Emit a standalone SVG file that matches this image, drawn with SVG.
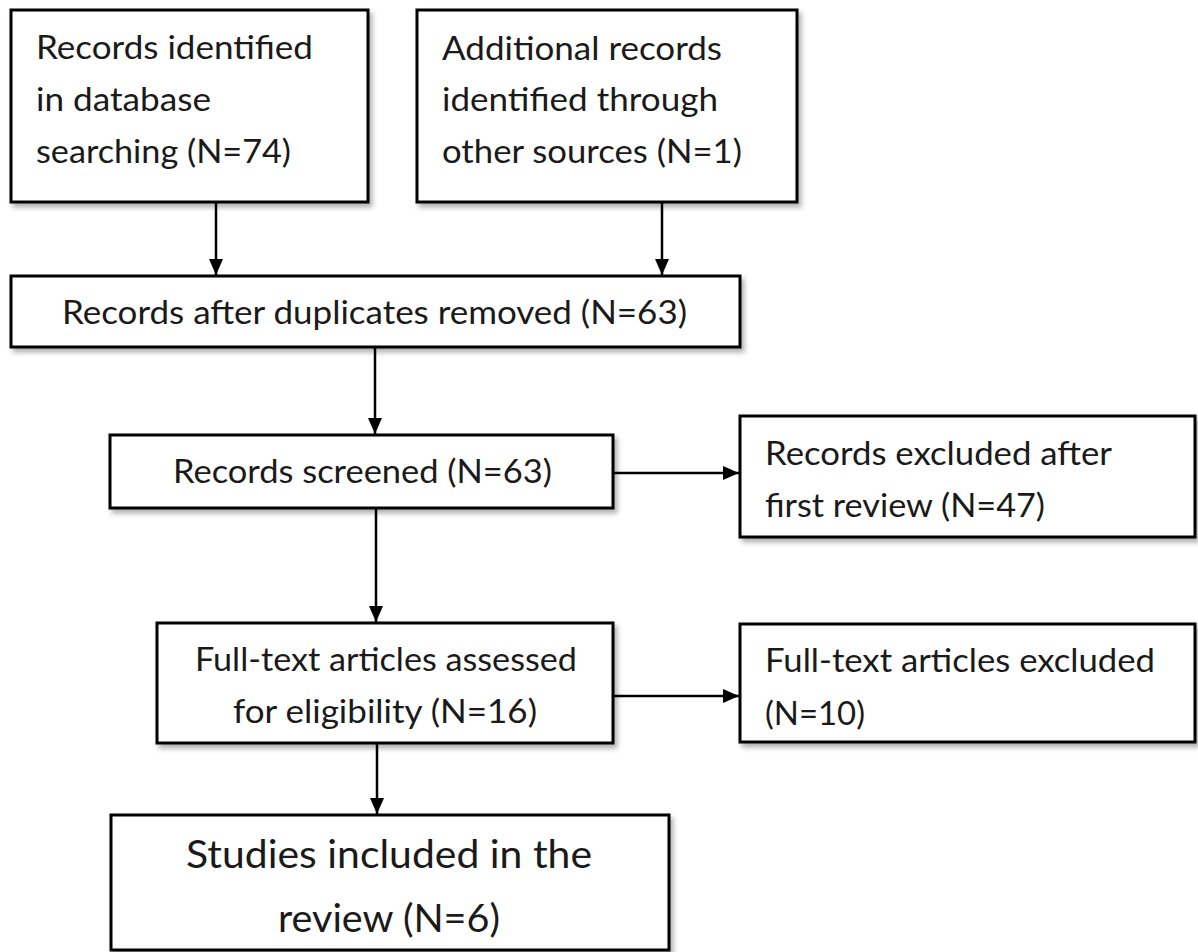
<svg xmlns="http://www.w3.org/2000/svg" width="1198" height="952" viewBox="0 0 1198 952">
<defs>
<filter id="sh" x="-5%" y="-5%" width="115%" height="120%">
<feDropShadow dx="3" dy="4" stdDeviation="2.5" flood-color="#000" flood-opacity="0.3"/>
</filter>
<marker id="ah" viewBox="0 0 16 14" refX="16" refY="7" markerWidth="16" markerHeight="14" markerUnits="userSpaceOnUse" orient="auto">
<path d="M0,0 L16,7 L0,14 z" fill="#000"/>
</marker>
</defs>
<style>
.box{fill:#fff;stroke:#000;stroke-width:3;filter:url(#sh)}
.t{font-family:Lato,"Open Sans","Liberation Sans",sans-serif;font-size:32.5px;fill:#1a1a1a}
.tb{font-family:Lato,"Open Sans","Liberation Sans",sans-serif;font-size:38px;fill:#1a1a1a}
.c{text-anchor:middle}
.edge{stroke:#000;stroke-width:2.5;fill:none;marker-end:url(#ah)}
</style>
<rect width="1198" height="952" fill="#fff"/>
<g id="connectors">
<line class="edge" x1="216" y1="203" x2="216" y2="275"/>
<line class="edge" x1="662" y1="203" x2="662" y2="275"/>
<line class="edge" x1="375" y1="348" x2="375" y2="434"/>
<line class="edge" x1="376" y1="509" x2="376" y2="622"/>
<line class="edge" x1="377" y1="744" x2="377" y2="814"/>
<line class="edge" x1="614" y1="473" x2="739" y2="473"/>
<line class="edge" x1="614" y1="696" x2="739" y2="696"/>
</g>
<g id="n1">
<rect class="box" x="11" y="10" width="357" height="192"/>
<text class="t" x="36" y="59" textLength="277" lengthAdjust="spacingAndGlyphs">Records identified</text>
<text class="t" x="36" y="111" textLength="175" lengthAdjust="spacingAndGlyphs">in database</text>
<text class="t" x="36" y="163" textLength="255" lengthAdjust="spacingAndGlyphs">searching (N=74)</text>
</g>
<g id="n2">
<rect class="box" x="417" y="10" width="380" height="192"/>
<text class="t" x="442" y="60" textLength="280" lengthAdjust="spacingAndGlyphs">Additional records</text>
<text class="t" x="442" y="111" textLength="276" lengthAdjust="spacingAndGlyphs">identified through</text>
<text class="t" x="442" y="163" textLength="300" lengthAdjust="spacingAndGlyphs">other sources (N=1)</text>
</g>
<g id="n3">
<rect class="box" x="11" y="276" width="729" height="71"/>
<text class="t c" x="374.5" y="324" textLength="625" lengthAdjust="spacingAndGlyphs">Records after duplicates removed (N=63)</text>
</g>
<g id="n4">
<rect class="box" x="110" y="435" width="503" height="73"/>
<text class="t c" x="362.5" y="483" textLength="379" lengthAdjust="spacingAndGlyphs">Records screened (N=63)</text>
</g>
<g id="n5">
<rect class="box" x="157" y="623" width="456" height="120"/>
<text class="t c" x="386" y="671" textLength="382" lengthAdjust="spacingAndGlyphs">Full-text articles assessed</text>
<text class="t c" x="385" y="723" textLength="304" lengthAdjust="spacingAndGlyphs">for eligibility (N=16)</text>
</g>
<g id="n6">
<rect class="box" x="740" y="416" width="455" height="121"/>
<text class="t" x="765" y="465" textLength="347" lengthAdjust="spacingAndGlyphs">Records excluded after</text>
<text class="t" x="765" y="517" textLength="280" lengthAdjust="spacingAndGlyphs">first review (N=47)</text>
</g>
<g id="n8">
<rect class="box" x="740" y="624" width="455" height="118"/>
<text class="t" x="765" y="672" textLength="390" lengthAdjust="spacingAndGlyphs">Full-text articles excluded</text>
<text class="t" x="765" y="725" textLength="100" lengthAdjust="spacingAndGlyphs">(N=10)</text>
</g>
<g id="n7">
<rect class="box" x="111" y="815" width="558" height="135"/>
<text class="tb c" x="389" y="868" textLength="406" lengthAdjust="spacingAndGlyphs">Studies included in the</text>
<text class="tb c" x="389" y="932" textLength="222" lengthAdjust="spacingAndGlyphs">review (N=6)</text>
</g>
</svg>
